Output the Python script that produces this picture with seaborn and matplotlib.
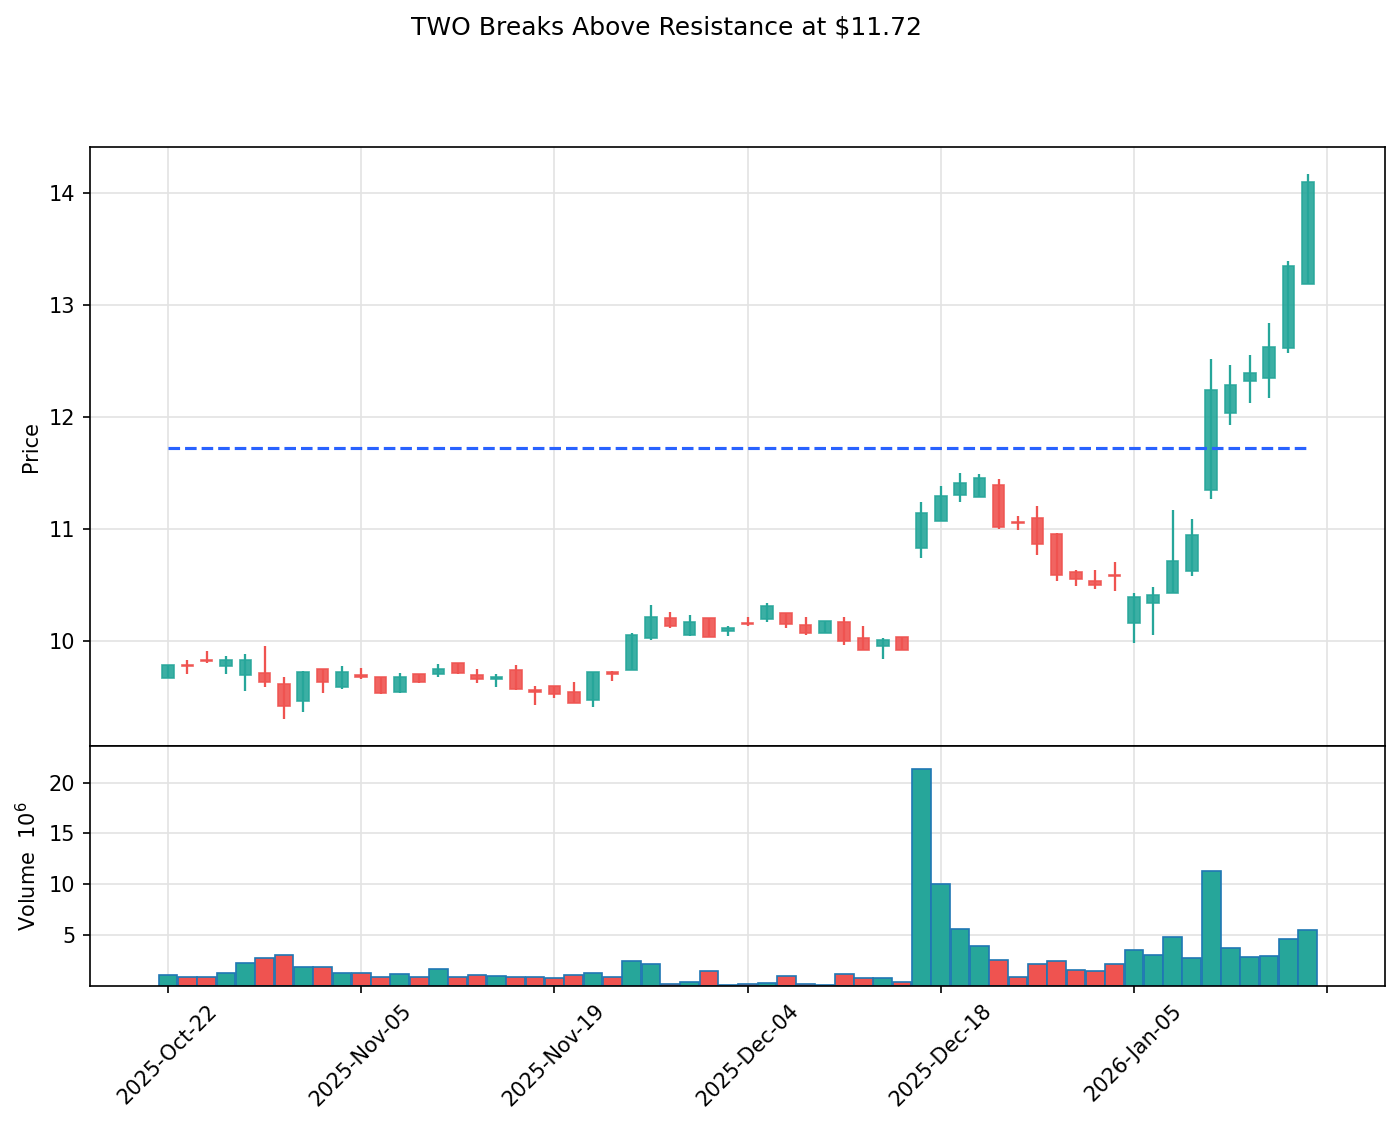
import numpy as np
import pandas as pd
import matplotlib
matplotlib.use("Agg")
import matplotlib.pyplot as plt
import seaborn as sns

# OHLC, one entry per trading day (2025-10-22 .. 2026-01-16)
opens = [9.67, 9.78, 9.83, 9.77, 9.69, 9.71, 9.61, 9.46, 9.75, 9.59,
         9.69, 9.68, 9.54, 9.70, 9.70, 9.80, 9.69, 9.66, 9.74, 9.56,
         9.60, 9.54, 9.47, 9.72, 9.74, 10.02, 10.20, 10.05, 10.20, 10.09,
         10.16, 10.19, 10.25, 10.14, 10.07, 10.17, 10.02, 9.95, 10.03, 10.83,
         11.07, 11.30, 11.28, 11.39, 11.06, 11.10, 10.95, 10.61, 10.53, 10.59,
         10.16, 10.34, 10.43, 10.62, 11.35, 12.03, 12.32, 12.35, 12.61, 13.19]
highs = [9.78, 9.83, 9.91, 9.86, 9.88, 9.95, 9.68, 9.73, 9.75, 9.77,
         9.76, 9.68, 9.71, 9.70, 9.79, 9.80, 9.75, 9.70, 9.78, 9.60,
         9.60, 9.63, 9.72, 9.73, 10.07, 10.32, 10.26, 10.23, 10.20, 10.13,
         10.21, 10.34, 10.25, 10.21, 10.18, 10.21, 10.13, 10.02, 10.03, 11.24,
         11.38, 11.50, 11.49, 11.44, 11.11, 11.20, 10.96, 10.63, 10.63, 10.70,
         10.43, 10.48, 11.17, 11.09, 12.52, 12.46, 12.55, 12.84, 13.39, 14.17]
lows = [9.67, 9.70, 9.80, 9.70, 9.55, 9.59, 9.30, 9.36, 9.53, 9.57,
        9.66, 9.52, 9.53, 9.62, 9.68, 9.70, 9.62, 9.59, 9.56, 9.43,
        9.49, 9.44, 9.41, 9.64, 9.74, 10.01, 10.11, 10.04, 10.03, 10.04,
        10.13, 10.17, 10.11, 10.05, 10.07, 9.96, 9.92, 9.84, 9.92, 10.74,
        11.07, 11.24, 11.28, 11.00, 10.99, 10.77, 10.53, 10.49, 10.46, 10.44,
        9.98, 10.05, 10.43, 10.58, 11.27, 11.93, 12.12, 12.17, 12.57, 13.19]
closes = [9.78, 9.77, 9.82, 9.83, 9.83, 9.63, 9.42, 9.72, 9.63, 9.72,
          9.68, 9.53, 9.68, 9.63, 9.75, 9.71, 9.66, 9.68, 9.57, 9.54,
          9.52, 9.44, 9.72, 9.70, 10.05, 10.21, 10.13, 10.17, 10.03, 10.11,
          10.15, 10.31, 10.15, 10.07, 10.18, 10.00, 9.92, 10.01, 9.92, 11.14,
          11.29, 11.41, 11.45, 11.02, 11.05, 10.86, 10.59, 10.55, 10.50, 10.58,
          10.39, 10.41, 10.71, 10.94, 12.24, 12.28, 12.39, 12.62, 13.35, 14.10]
# volume in millions
volumes = [1.05, 0.85, 0.85, 1.28, 2.26, 2.72, 3.02, 1.84, 1.84, 1.28,
           1.28, 0.85, 1.18, 0.85, 1.67, 0.85, 1.05, 0.95, 0.92, 0.92,
           0.75, 1.05, 1.28, 0.92, 2.43, 2.16, 0.23, 0.39, 1.48, 0.07,
           0.16, 0.30, 0.95, 0.16, 0.07, 1.18, 0.75, 0.75, 0.39, 21.3,
           10.0, 5.57, 3.90, 2.52, 0.85, 2.13, 2.43, 1.54, 1.44, 2.13,
           3.51, 3.02, 4.79, 2.72, 11.28, 3.70, 2.82, 2.92, 4.59, 5.48]
resistance = 11.72
tick_pos = [0, 10, 20, 30, 40, 50, 60]
tick_labels = ["2025-Oct-22", "2025-Nov-05", "2025-Nov-19", "2025-Dec-04",
               "2025-Dec-18", "2026-Jan-05", ""]

UP = "#26a69a"
DOWN = "#ef5350"

sns.set_style("whitegrid", {"grid.color": "#e3e3e3", "axes.edgecolor": "black",
                            "axes.linewidth": 0.8, "xtick.bottom": True,
                            "ytick.left": True, "text.color": "black",
                            "axes.labelcolor": "black", "xtick.color": "black",
                            "ytick.color": "black"})
plt.rcParams["font.family"] = ["DejaVu Sans"]
plt.rcParams["xtick.major.size"] = 3.5
plt.rcParams["ytick.major.size"] = 3.5

df = pd.DataFrame({"idx": np.arange(len(opens)), "open": opens, "high": highs,
                   "low": lows, "close": closes, "vol": volumes})
df["dir"] = np.where(df["close"] >= df["open"], "up", "down")
colors = df["dir"].map({"up": UP, "down": DOWN})

fig = plt.figure(figsize=(1400 / 150, 1126 / 150), dpi=150)
ax_p = fig.add_axes([0.0643, 0.3375, 0.925, 0.532])
ax_v = fig.add_axes([0.0643, 0.1243, 0.925, 0.2132], sharex=ax_p)

# candles
ax_p.vlines(df["idx"], df["low"], df["high"], colors=colors, linewidth=1.1, zorder=2)
body_lo = df[["open", "close"]].min(axis=1)
body_h = (df["close"] - df["open"]).abs()
ax_p.bar(df["idx"], body_h, bottom=body_lo, width=0.6, color=colors, alpha=0.9,
         edgecolor=colors, linewidth=0.8, zorder=3)

sns.lineplot(x=[df["idx"].iloc[0], df["idx"].iloc[-1]], y=[resistance, resistance],
             ax=ax_p, color="#2962ff", linestyle="--", linewidth=1.5, zorder=4)

# volume
sns.barplot(data=df, x="idx", y="vol", hue="dir", palette={"up": UP, "down": DOWN},
            native_scale=True, dodge=False, width=0.97, saturation=1,
            edgecolor="#1f77b4", linewidth=0.8, legend=False, ax=ax_v)

ax_p.set_xlim(-4.04, 63.0)
ax_p.set_ylim(9.06, 14.41)
ax_p.set_yticks([10, 11, 12, 13, 14])
ax_p.set_ylabel("Price")
ax_p.set_xlabel("")
ax_p.tick_params(axis="x", labelbottom=False, bottom=False)

ax_v.set_ylim(0, 23.6)
ax_v.set_yticks([5, 10, 15, 20])
ax_v.set_xticks(tick_pos)
ax_v.set_xticklabels(tick_labels, rotation=45, ha="center")
ax_v.set_xlim(-4.04, 63.0)
ax_v.set_xlabel("")
ax_v.set_ylabel("Volume  $10^6$")

for ax in (ax_p, ax_v):
    ax.set_axisbelow(True)
    ax.grid(True, linewidth=0.8)
    for s in ax.spines.values():
        s.set_color("black")
        s.set_linewidth(0.8)
fig.align_ylabels([ax_p, ax_v])

fig.text(0.476, 1 - 27 / 1126, "TWO Breaks Above Resistance at \\$11.72",
         ha="center", va="center", fontsize=12, color="black")

fig.savefig("out.png", dpi=150)
